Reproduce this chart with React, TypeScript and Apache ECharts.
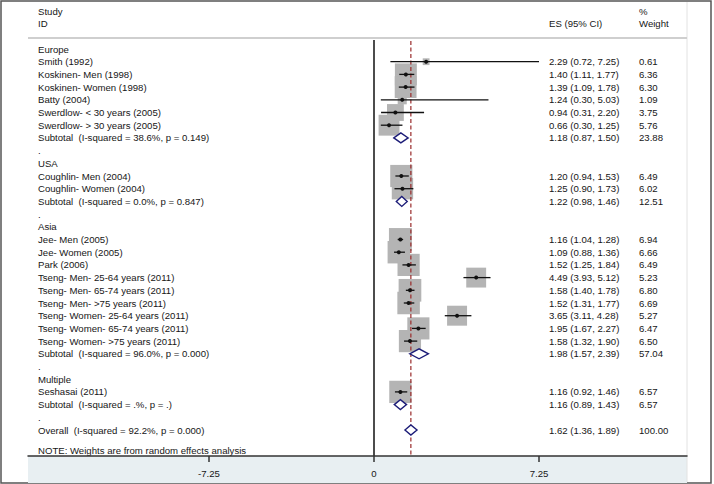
import React, { useEffect, useRef } from "react";
import * as echarts from "echarts";

const rowLabels: string[] = [
  "Europe",
  "Smith (1992)",
  "Koskinen- Men (1998)",
  "Koskinen- Women (1998)",
  "Batty (2004)",
  "Swerdlow- < 30 years (2005)",
  "Swerdlow- > 30 years (2005)",
  "Subtotal  (I-squared = 38.6%, p = 0.149)",
  ".",
  "USA",
  "Coughlin- Men (2004)",
  "Coughlin- Women (2004)",
  "Subtotal  (I-squared = 0.0%, p = 0.847)",
  ".",
  "Asia",
  "Jee- Men (2005)",
  "Jee- Women (2005)",
  "Park (2006)",
  "Tseng- Men- 25-64 years (2011)",
  "Tseng- Men- 65-74 years (2011)",
  "Tseng- Men- >75 years (2011)",
  "Tseng- Women- 25-64 years (2011)",
  "Tseng- Women- 65-74 years (2011)",
  "Tseng- Women- >75 years (2011)",
  "Subtotal  (I-squared = 96.0%, p = 0.000)",
  ".",
  "Multiple",
  "Seshasai (2011)",
  "Subtotal  (I-squared = .%, p = .)",
  ".",
  "Overall  (I-squared = 92.2%, p = 0.000)",
];

const rowKind: string[] = [
  "group", "study", "study", "study", "study", "study", "study", "sub", "blank",
  "group", "study", "study", "sub", "blank",
  "group", "study", "study", "study", "study", "study", "study", "study", "study", "study", "sub", "blank",
  "group", "study", "sub", "blank",
  "overall",
];

const esVals: (number | null)[] = [
  null, 2.29, 1.40, 1.39, 1.24, 0.94, 0.66, 1.18, null,
  null, 1.20, 1.25, 1.22, null,
  null, 1.16, 1.09, 1.52, 4.49, 1.58, 1.52, 3.65, 1.95, 1.58, 1.98, null,
  null, 1.16, 1.16, null,
  1.62,
];
const loVals: (number | null)[] = [
  null, 0.72, 1.11, 1.09, 0.30, 0.31, 0.30, 0.87, null,
  null, 0.94, 0.90, 0.98, null,
  null, 1.04, 0.88, 1.25, 3.93, 1.40, 1.31, 3.11, 1.67, 1.32, 1.57, null,
  null, 0.92, 0.89, null,
  1.36,
];
const hiVals: (number | null)[] = [
  null, 7.25, 1.77, 1.78, 5.03, 2.20, 1.25, 1.50, null,
  null, 1.53, 1.73, 1.46, null,
  null, 1.28, 1.36, 1.84, 5.12, 1.78, 1.77, 4.28, 2.27, 1.90, 2.39, null,
  null, 1.46, 1.43, null,
  1.89,
];
const weightVals: (number | null)[] = [
  null, 0.61, 6.36, 6.30, 1.09, 3.75, 5.76, 23.88, null,
  null, 6.49, 6.02, 12.51, null,
  null, 6.94, 6.66, 6.49, 5.23, 6.80, 6.69, 5.27, 6.47, 6.50, 57.04, null,
  null, 6.57, 6.57, null,
  100.0,
];

const xTicks = [-7.25, 0, 7.25];

const FONT = '9.6px "Liberation Sans", Arial, sans-serif';
const TEXT = "#161616";

export default function App() {
  const ref = useRef<HTMLDivElement>(null);

  useEffect(() => {
    document.body.style.margin = "0";
    const chart = echarts.init(ref.current!, null, { renderer: "svg" });

    const gridLeft = 28;
    const gridRight = 687;
    const gridTop = 38;
    const gridBottom = 456;
    const zeroPx = 374;
    const pxPerUnit = 165 / 7.25;
    const xMin = (gridLeft - zeroPx) / pxPerUnit;
    const xMax = (gridRight - zeroPx) / pxPerUnit;
    const row0 = 49;
    const rowH = 12.7;
    const yMin = (gridTop - row0) / rowH;
    const yMax = (gridBottom - row0) / rowH;

    const labelX = 38;
    const esX = 549;
    const wX = 639;

    const textData = rowLabels.map((_, i) => [0, i]);
    const markData: number[][] = [];
    rowLabels.forEach((_, i) => {
      const e = esVals[i];
      if (e != null) {
        markData.push([e, i, loVals[i] as number, hiVals[i] as number, weightVals[i] as number, rowKind[i] === "study" ? 0 : 1]);
      }
    });
    const boxData = markData.filter((d) => d[5] === 0);
    const overallIdx = rowKind.indexOf("overall");
    const refData = [[0, 0], [esVals[overallIdx] as number, 1]];

    const option: any = {
      animation: false,
      grid: {
        left: gridLeft,
        right: 714 - gridRight,
        top: gridTop,
        bottom: 484 - gridBottom,
        containLabel: false,
      },
      xAxis: {
        type: "value",
        position: "bottom",
        min: xMin,
        max: xMax,
        z: 5,
        axisLine: { show: true, onZero: false, lineStyle: { color: "#333", width: 1.5 } },
        axisTick: { show: true, customValues: xTicks, length: 6, lineStyle: { color: "#333", width: 1.5 } },
        axisLabel: {
          show: true,
          customValues: xTicks,
          margin: 12,
          color: TEXT,
          fontSize: 9.6,
          fontFamily: '"Liberation Sans", Arial, sans-serif',
          formatter: (v: number) => String(v),
        },
        splitLine: { show: false },
      },
      yAxis: {
        type: "value",
        inverse: true,
        min: yMin,
        max: yMax,
        show: false,
      },
      graphic: [
        { type: "rect", z: -10, shape: { x: 1, y: 1, width: 710, height: 482 }, style: { fill: "#fff", stroke: "#555", lineWidth: 1.5 } },
        { type: "rect", z: -5, shape: { x: gridLeft, y: gridBottom, width: gridRight - gridLeft, height: 483 - gridBottom }, style: { fill: "#e8eff2" } },
        { type: "line", z: -4, shape: { x1: gridRight, y1: 2, x2: gridRight, y2: 482 }, style: { stroke: "#e2e2e2", lineWidth: 1 } },
        { type: "line", z: -4, shape: { x1: gridLeft, y1: gridTop, x2: gridRight, y2: gridTop }, style: { stroke: "#cfcfcf", lineWidth: 2 } },
        { type: "text", style: { text: "Study", x: labelX, y: 11, font: FONT, fill: TEXT, textVerticalAlign: "middle" } },
        { type: "text", style: { text: "ID", x: labelX, y: 23, font: FONT, fill: TEXT, textVerticalAlign: "middle" } },
        { type: "text", style: { text: "ES (95% CI)", x: esX, y: 23, font: FONT, fill: TEXT, textVerticalAlign: "middle" } },
        { type: "text", style: { text: "%", x: wX, y: 11, font: FONT, fill: TEXT, textVerticalAlign: "middle" } },
        { type: "text", style: { text: "Weight", x: wX, y: 23, font: FONT, fill: TEXT, textVerticalAlign: "middle" } },
        { type: "text", style: { text: "NOTE: Weights are from random effects analysis", x: labelX, y: 450, font: FONT, fill: TEXT, textVerticalAlign: "middle" } },
      ],
      series: [
        {
          type: "custom",
          name: "text",
          z: 1,
          data: textData,
          renderItem: (params: any, api: any) => {
            const i = params.dataIndex;
            const y = api.coord([0, i])[1];
            const children: any[] = [
              { type: "text", style: { text: rowLabels[i], x: labelX, y, font: FONT, fill: TEXT, textVerticalAlign: "middle" } },
            ];
            const e = esVals[i];
            if (e != null) {
              const lo = loVals[i] as number;
              const hi = hiVals[i] as number;
              const w = weightVals[i] as number;
              children.push({ type: "text", style: { text: `${e.toFixed(2)} (${lo.toFixed(2)}, ${hi.toFixed(2)})`, x: esX, y, font: FONT, fill: TEXT, textVerticalAlign: "middle" } });
              children.push({ type: "text", style: { text: w.toFixed(2), x: wX, y, font: FONT, fill: TEXT, textVerticalAlign: "middle" } });
            }
            return { type: "group", children };
          },
        },
        {
          type: "custom",
          name: "boxes",
          z: 2,
          data: boxData,
          renderItem: (params: any, api: any) => {
            const [cx, cy] = api.coord([api.value(0), api.value(1)]);
            const s = 8.7 * Math.sqrt(api.value(4));
            return { type: "rect", shape: { x: cx - s / 2, y: cy - s / 2, width: s, height: s }, style: { fill: "#b4b4b4" } };
          },
        },
        {
          type: "custom",
          name: "refs",
          z: 3,
          data: refData,
          renderItem: (params: any, api: any) => {
            const cs = params.coordSys;
            const x = api.coord([api.value(0), 0])[0];
            const isOverall = api.value(1) === 1;
            return {
              type: "line",
              shape: { x1: x, y1: cs.y + (isOverall ? 3 : 2), x2: x, y2: cs.y + cs.height },
              style: isOverall
                ? { stroke: "#9a2b2b", lineWidth: 1.2, lineDash: [4, 2.5] }
                : { stroke: "#111", lineWidth: 1.5 },
            };
          },
        },
        {
          type: "custom",
          name: "marks",
          z: 4,
          data: markData,
          renderItem: (params: any, api: any) => {
            const row = api.value(1);
            const [cx, cy] = api.coord([api.value(0), row]);
            const xl = api.coord([api.value(2), row])[0];
            const xh = api.coord([api.value(3), row])[0];
            if (api.value(5) === 0) {
              return {
                type: "group",
                children: [
                  { type: "line", shape: { x1: xl, y1: cy, x2: xh, y2: cy }, style: { stroke: "#111", lineWidth: 1.3 } },
                  { type: "circle", shape: { cx, cy, r: 2 }, style: { fill: "#111" } },
                ],
              };
            }
            const h = 5;
            return {
              type: "polygon",
              shape: { points: [[xl, cy], [cx, cy - h], [xh, cy], [cx, cy + h]] },
              style: { fill: "#fff", stroke: "#1c1c78", lineWidth: 1.4 },
            };
          },
        },
      ],
    };

    chart.setOption(option);
    return () => chart.dispose();
  }, []);

  return <div ref={ref} style={{ width: 714, height: 484 }} />;
}
